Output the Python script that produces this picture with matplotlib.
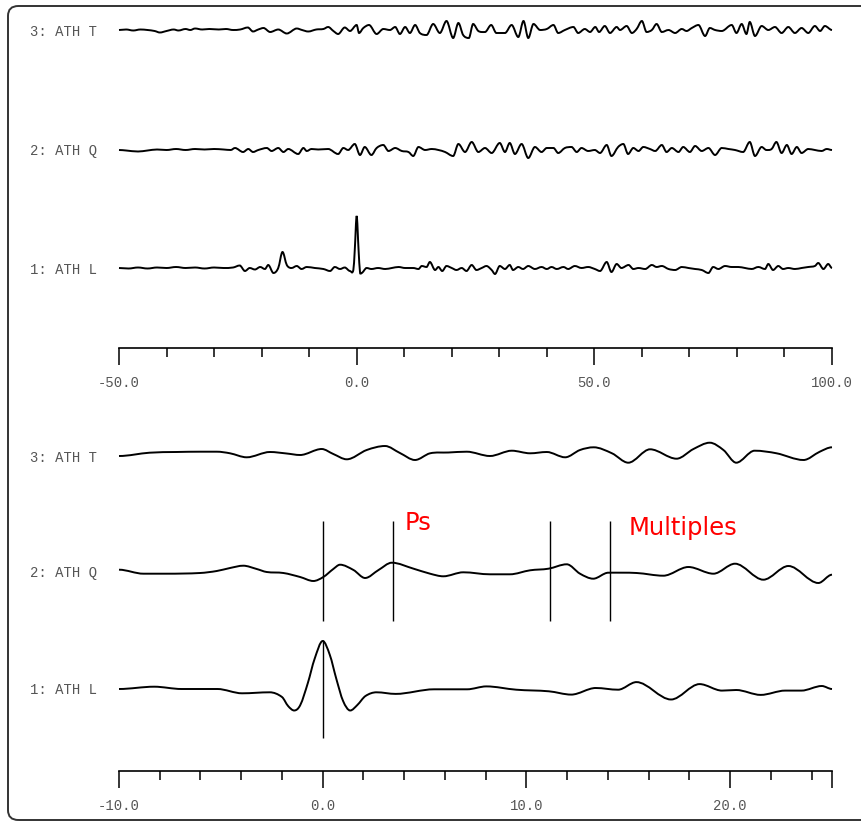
import numpy as np
import matplotlib
matplotlib.use('Agg')
import matplotlib.pyplot as plt
from matplotlib.path import Path
from matplotlib.patches import PathPatch, FancyBboxPatch
from matplotlib.transforms import blended_transform_factory

# DATA (amplitudes, in screen pixels, up = positive)

# top window, -50 .. 100 s
TOP_T_TIME = [-50.0, -48.5, -47.0, -45.5, -44.0, -42.5, -41.4, -40.0, -38.5, -37.5, -36.0, -35.0,
              -34.0, -32.5, -31.0, -29.0, -27.5, -26.0, -24.5, -22.9, -21.8, -20.7, -19.6, -18.2,
              -16.5, -14.7, -12.6, -11.5, -10.2, -8.5, -7.0, -6.0, -4.9, -3.9, -2.5, -1.4, 0.0,
              0.5, 1.4, 2.6, 4.2, 5.6, 7.0, 8.1, 9.1, 10.2, 11.2, 12.3, 13.3, 14.7, 16.1, 17.5,
              18.9, 20.3, 21.4, 22.4, 23.6, 24.5, 25.6, 27.0, 28.3, 29.4, 31.2, 32.6, 34.0, 35.1,
              36.1, 37.2, 38.6, 40.0, 41.4, 42.4, 43.8, 45.6, 46.6, 48.0, 49.1, 50.2, 51.0, 52.2,
              53.3, 54.7, 55.4, 56.8, 57.9, 58.9, 60.0, 61.0, 62.1, 63.1, 64.2, 65.6, 67.0, 68.4,
              69.4, 70.5, 71.9, 73.3, 74.3, 75.4, 76.8, 78.9, 79.9, 81.0, 82.0, 82.7, 83.8, 85.2,
              86.6, 88.0, 89.4, 90.8, 92.2, 93.6, 95.0, 96.4, 97.5, 98.5, 100.0]
TOP_T_AMP = [0, 0.5, -0.5, 0.5, 0, -1, -2.5, -1, 0.5, -0.5, 1, 0,
             1.5, 0.5, 1, 0.5, 1, 0, 0.5, 2.5, -1.5, 0.5, 2, -2,
             0.5, -3.5, 1.5, 0, -1.5, 0.5, 1, 3, -1, -4, 2.5, -1, 5,
             -3, 2, 5, -4, 1, 0, 3, -4, 3, -3, 5, -3, -5, 6, -3,
             9, -8, 7, -5, -8, 6, -1, -2, 5, -3, -3, 5, -7, 9,
             -8, 6, 0, 1, 5, -3, 0, 3, -3, 1, -2, 3, -2, 4,
             -3, 3, 0, 4, -3, 1, 9, -2, 0, 6, -2, 0, -3, 1,
             -1, 2, 5, -6, 2, 0, -1, 5, -3, 6, -4, 8, -6, 4,
             0, 3, -3, 3, -3, 2, -3, 4, -1, 4, 0]

TOP_Q_TIME = [-50.0, -48.5, -46.0, -44.0, -42.0, -40.0, -38.0, -36.0, -34.0, -32.0, -30.0, -28.0,
              -26.5, -25.6, -23.9, -22.8, -21.8, -20.7, -18.9, -17.9, -16.5, -15.4, -14.4, -12.3,
              -11.2, -10.5, -9.5, -8.1, -6.0, -3.9, -2.8, -1.8, -0.4, 0.7, 1.7, 3.1, 4.2, 5.6,
              6.7, 8.1, 9.5, 10.9, 11.9, 13.0, 14.4, 15.8, 17.2, 18.6, 20.3, 21.4, 22.8, 24.2,
              25.6, 27.0, 28.4, 30.1, 31.2, 32.2, 33.3, 34.7, 36.1, 37.5, 38.9, 40.0, 41.4, 42.4,
              43.8, 45.2, 46.3, 47.3, 48.7, 50.1, 51.2, 52.6, 53.6, 55.0, 56.1, 57.1, 58.2, 59.3,
              60.3, 61.7, 62.8, 64.2, 65.2, 66.3, 67.7, 68.7, 70.1, 71.2, 72.6, 74.0, 75.4, 76.8,
              78.2, 79.6, 81.3, 82.7, 83.8, 85.2, 86.2, 87.3, 88.3, 89.4, 90.5, 91.5, 92.6, 93.6,
              95.0, 96.4, 97.8, 98.9, 100.0]
TOP_Q_AMP = [0, -0.5, -1.5, -0.5, 0.5, 0, 1, 0, 1, 0.5, 1, 0.5,
             0, 2, -2, 1, -2, 0, 2, -1, 2, -2, 1, -4,
             2, -1, 1, 0.5, 1, -4, 2, 0, 6, -5, 3, -5, 2, 5,
             -1, 2, -1, -2, -6, 3, 0, 1, 0, -2, -6, 6, -2, 8,
             -2, 2, -3, 7, -2, 7, -4, 6, -8, 3, -2, 2, 2, -3,
             2, 3, -2, 2, -1, 0, -3, 5, -6, 3, 6, -4, 2, -1,
             3, 1, -1, 5, -2, 2, -2, 3, -2, 4, -1, 2, -5, 2,
             1, 0, -2, 8, -6, 3, 0, 1, 8, -3, 5, -4, 3, -3,
             1, 0, -1, 1, 0]

TOP_L_TIME = [-50.0, -48.0, -46.0, -44.0, -42.0, -40.0, -38.0, -36.0, -34.0, -32.0, -30.0, -28.0,
              -26.0, -24.6, -23.5, -22.5, -21.4, -20.3, -19.3, -18.6, -17.5, -16.5, -15.6, -14.7,
              -13.7, -12.6, -11.6, -10.5, -8.8, -7.0, -5.6, -4.6, -3.5, -2.5, -1.4, -0.7, -0.4,
              0.0, 0.4, 0.7, 1.0, 2.1, 3.1, 4.5, 6.0, 7.4, 8.8, 10.2, 11.9, 13.0, 13.7, 14.7,
              15.4, 16.5, 17.2, 18.0, 18.9, 20.0, 21.0, 22.1, 23.1, 24.2, 25.2, 26.3, 27.3, 28.4,
              29.1, 30.1, 31.2, 32.2, 32.9, 34.0, 35.0, 36.1, 37.5, 38.9, 40.0, 41.0, 42.1, 43.5,
              44.5, 45.9, 47.3, 48.7, 50.1, 51.2, 52.6, 53.6, 54.7, 55.7, 57.2, 58.2, 59.3, 60.7,
              62.1, 63.1, 64.2, 65.6, 67.0, 68.4, 69.8, 71.2, 72.6, 74.0, 75.0, 76.1, 77.5, 78.9,
              80.3, 81.7, 83.1, 84.5, 85.9, 86.6, 87.6, 88.7, 89.7, 90.8, 92.2, 93.6, 95.0, 96.4,
              97.1, 98.2, 99.2, 100.0]
TOP_L_AMP = [0, -0.5, 0.5, -0.5, 0.5, 0, 1, 0, 0.5, -0.5, 0.5, 0,
             0.5, 2.5, -3, 0, -1.5, 1, -1, 3, -5, 0, 16, 3,
             0, 2, -1, 1, 0, -1, -3, 1, -1, 0.5, -3, -2, 18,
             52, 18, -4, -5, 0, -1, 0, -1, 0, 1, 0, 0, -1, 2, 1,
             6, -2, 1, -3, 2, 0, -2, 0, -3, 3, -2, 0, 2, -2,
             -6, 2, -1, 3, -2, 1, -1, 2, -1, 1, -1, 1, -1, 1,
             -1, 2, 0, 1, -1, -3, 6, -4, 4, 0, 3, -1, 0, -1,
             3, 1, 2, -1, -2, 1, 0, -1, -2, -5, 1, -1, 2, 1,
             1, 0, -1, 1, -1, 4, -2, 2, -1, 0, -1, 0, 1, 2,
             5, -1, 4, 0]

# bottom window, -10 .. 25 s
BOT_T_TIME = [-10.0, -8.5, -7.2, -6.0, -5.2, -4.55, -3.73, -2.59, -1.77, -1.11, -0.05, 0.52, 1.18,
              2.16, 3.06, 3.79, 4.53, 5.27, 6.17, 7.07, 8.21, 9.28, 10.18, 11.0, 11.9, 12.63, 13.3,
              14.2, 15.0, 16.07, 17.37, 18.2, 19.0, 19.67, 20.3, 21.2, 22.28, 23.6, 24.4, 25.0]
BOT_T_AMP = [0, 3.3, 4, 4.3, 4.3, 2.7, -1.3, 4, 2.5, 1, 7, 2, -3.3,
             6, 10, 3, -4, 2.7, 3.5, 4.3, 0, 5.3, 2.7, 4, -1.3, 6, 8.7,
             2.7, -6.7, 6.7, -2.7, 7, 13.3, 6, -6.7, 5.3, 2.7, -4, 4.3, 8.7]

BOT_Q_TIME = [-10.0, -8.8, -7.66, -6.02, -5.2, -4.55, -3.9, -3.24, -2.75, -1.93, -1.11, -0.46, 0.03,
              0.52, 0.85, 1.51, 2.08, 2.74, 3.39, 4.46, 5.27, 5.92, 6.9, 8.21, 9.19, 10.18, 11.08,
              11.98, 12.63, 13.28, 14.02, 15.41, 16.72, 17.95, 19.18, 20.24, 21.63, 22.86, 24.33, 25.0]
BOT_Q_AMP = [2.3, -1.7, -1.7, -1, 1, 4, 6.3, 3, 0, -1, -5, -9, -5,
             3, 7.3, 2, -6, 2, 9.3, 3.3, -1.7, -4.3, -0.3, -2.3, -2.3, 1.7, 3.3,
             7.7, -1.7, -6.7, -0.7, -1, -3.7, 5, -1.7, 8.3, -7.7, 6, -11, -2.7]

BOT_L_TIME = [-10.0, -8.27, -6.93, -5.17, -3.96, -2.6, -2.0, -1.7, -1.4, -1.1, -0.73, -0.4, 0.0,
              0.35, 0.67, 1.0, 1.35, 1.7, 2.1, 2.64, 3.58, 5.47, 7.09, 8.03, 9.5, 11.1, 12.2,
              13.4, 14.5, 15.4, 17.1, 18.5, 19.6, 20.3, 21.5, 22.7, 23.5, 24.5, 25.0]
BOT_L_AMP = [0, 2.3, 0, 0, -4.3, -3.3, -8, -17, -21.5, -16, 6, 30, 48,
             34, 10, -12, -21.5, -16, -7, -3.3, -4.9, -0.3, -0.3, 2.6, -0.7, -2.3, -5.6,
             1, -0.7, 6.9, -10.5, 4.9, -1.6, -1, -5.9, -1.6, -1.6, 3, 0]

TRACE_NAMES = ['3: ATH T', '2: ATH Q', '1: ATH L']

TOP_TICKS = [-50, 0, 50, 100]
TOP_TICK_LABELS = ['-50.0', '0.0', '50.0', '100.0']
TOP_MINOR = [-40, -30, -20, -10, 10, 20, 30, 40, 60, 70, 80, 90]
BOT_TICKS = [-10, 0, 10, 20, 25]
BOT_TICK_LABELS = ['-10.0', '0.0', '10.0', '20.0', '']
BOT_MINOR = [-8, -6, -4, -2, 2, 4, 6, 8, 12, 14, 16, 18, 22, 24]

PICKS_Q = [0.0, 3.45, 11.15, 14.1]
PICK_L = 0.0

# VISUAL PARAMETERS

W, H = 861, 823
TRACE_LW = 1.4
LABEL_FONT = 'Liberation Mono'
LABEL_COLOUR = '#555555'
LABEL_SIZE = 10

# page rows (pixels from the top) of the two time axes and the trace baselines
TOP_AXIS_Y = 348
BOT_AXIS_Y = 771
TOP_ROWS = [30, 150, 268]
BOT_ROWS = [456, 572, 689]


def wave_path(t, a, base):
    # smooth cubic through the read points, flat at the peaks
    t = np.asarray(t, float)
    y = np.asarray(a, float) + base
    n = len(t)
    m = np.zeros(n)
    for i in range(1, n - 1):
        if (y[i] - y[i - 1]) * (y[i + 1] - y[i]) > 0:
            m[i] = (y[i + 1] - y[i - 1]) / (t[i + 1] - t[i - 1])
    verts = [(t[0], y[0])]
    codes = [Path.MOVETO]
    for i in range(n - 1):
        h = t[i + 1] - t[i]
        verts += [(t[i] + h / 3, y[i] + m[i] * h / 3),
                  (t[i + 1] - h / 3, y[i + 1] - m[i + 1] * h / 3),
                  (t[i + 1], y[i + 1])]
        codes += [Path.CURVE4] * 3
    return Path(verts, codes)


def setup_axis(ax, xlim, height, ticks, labels, minor):
    ax.set_xlim(xlim)
    ax.set_ylim(0, height)
    for s in ['top', 'right', 'left']:
        ax.spines[s].set_visible(False)
    ax.spines['bottom'].set_linewidth(1.2)
    ax.patch.set_alpha(0)
    ax.set_yticks([])
    ax.set_xticks(ticks)
    ax.set_xticklabels(labels, family=LABEL_FONT, fontsize=LABEL_SIZE, color=LABEL_COLOUR)
    ax.set_xticks(minor, minor=True)
    ax.tick_params(axis='x', which='major', direction='out', length=12, width=1.1, pad=8)
    ax.tick_params(axis='x', which='minor', direction='out', length=6.5, width=1.1)


def draw_trace(ax, t, a, base, name):
    ax.add_patch(PathPatch(wave_path(t, a, base), facecolor='none', edgecolor='black',
                           lw=TRACE_LW, clip_on=False))
    tr = blended_transform_factory(fig.transFigure, ax.transData)
    ax.text(30 / W, base - 1.5, name, transform=tr, ha='left', va='center',
            family=LABEL_FONT, fontsize=LABEL_SIZE, color=LABEL_COLOUR)


fig = plt.figure(figsize=(W / 100, H / 100), dpi=100)

# frame with rounded corners, right side runs off the page
frame = FancyBboxPatch((8 / W, 3 / H), 880 / W, 814 / H, transform=fig.transFigure,
                       boxstyle='round,pad=0,rounding_size=0.012', facecolor='none',
                       edgecolor='#333333', lw=1.4)
fig.add_artist(frame)

# top panel: data y is pixels above the axis line
top_h = TOP_AXIS_Y
ax1 = fig.add_axes([119 / W, (H - TOP_AXIS_Y) / H, 713 / W, top_h / H])
setup_axis(ax1, (-50, 100), top_h, TOP_TICKS, TOP_TICK_LABELS, TOP_MINOR)
draw_trace(ax1, TOP_T_TIME, TOP_T_AMP, TOP_AXIS_Y - TOP_ROWS[0], TRACE_NAMES[0])
draw_trace(ax1, TOP_Q_TIME, TOP_Q_AMP, TOP_AXIS_Y - TOP_ROWS[1], TRACE_NAMES[1])
draw_trace(ax1, TOP_L_TIME, TOP_L_AMP, TOP_AXIS_Y - TOP_ROWS[2], TRACE_NAMES[2])

# bottom panel
bot_h = BOT_AXIS_Y - 395
ax2 = fig.add_axes([119 / W, (H - BOT_AXIS_Y) / H, 713 / W, bot_h / H])
setup_axis(ax2, (-10, 25), bot_h, BOT_TICKS, BOT_TICK_LABELS, BOT_MINOR)
draw_trace(ax2, BOT_T_TIME, BOT_T_AMP, BOT_AXIS_Y - BOT_ROWS[0], TRACE_NAMES[0])
draw_trace(ax2, BOT_Q_TIME, BOT_Q_AMP, BOT_AXIS_Y - BOT_ROWS[1], TRACE_NAMES[1])
draw_trace(ax2, BOT_L_TIME, BOT_L_AMP, BOT_AXIS_Y - BOT_ROWS[2], TRACE_NAMES[2])

# picks
ax2.vlines(PICKS_Q, BOT_AXIS_Y - 621, BOT_AXIS_Y - 521, color='black', lw=1.0)
ax2.vlines(PICK_L, BOT_AXIS_Y - 738, BOT_AXIS_Y - 640, color='black', lw=1.0)

ax2.text(4.04, BOT_AXIS_Y - 523, 'Ps', color='red', fontsize=17.5, family='DejaVu Sans',
         ha='left', va='center')
ax2.text(15.04, BOT_AXIS_Y - 528, 'Multiples', color='red', fontsize=17.5, family='DejaVu Sans',
         ha='left', va='center')

fig.savefig('out.png', dpi=100)
